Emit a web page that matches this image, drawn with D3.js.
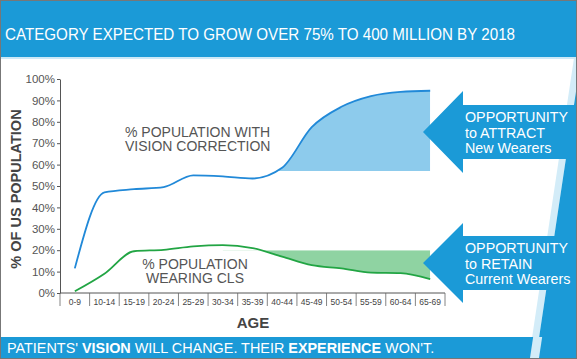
<html>
<head>
<script src="https://d3js.org/d3.v7.min.js"></script>
<style>
  body { margin: 0; background: #fff; }
  text { font-family: "Liberation Sans", Arial, sans-serif; }
</style>
</head>
<body>
<script>
// age groups on the x axis
const ages = ["0-9", "10-14", "15-19", "20-24", "25-29", "30-34", "35-39",
              "40-44", "45-49", "50-54", "55-59", "60-64", "65-69"];
// % population with vision correction
const visionCorrection = [11.5, 47, 48.5, 49.5, 55, 54.5, 53.5, 58.5, 77.5, 87, 92, 94, 94.5];
// % population wearing contact lenses
const wearingCLs = [0.8, 9, 19.5, 20.2, 21.8, 22.4, 21, 17, 13, 11.5, 9.5, 9.3, 6.5];
// opportunity thresholds (fill baselines)
const attractLevel = 57;
const retainLevel = 20;
const yTicks = [0, 10, 20, 30, 40, 50, 60, 70, 80, 90, 100];

const W = 577, H = 359;
const blue = "#1b9ad7";

let svg = d3.select("body").append("svg")
  .attr("width", W)
  .attr("height", H);

svg.append("rect").attr("width", W).attr("height", H).attr("fill", "#fff");

// decorative slanted band on the right
const edge = y => 581 - 0.15 * (y - 58);
svg.append("polygon")
  .attr("points", [[edge(58) - 7, 58], [edge(58), 58], [edge(359), 359], [edge(359) - 7, 359]].join(" "))
  .attr("fill", "#d3ecf8");
svg.append("polygon")
  .attr("points", [[edge(58), 58], [W, 58], [W, 359], [edge(359), 359]].join(" "))
  .attr("fill", blue);

// title bar
svg.append("rect").attr("x", 0).attr("y", 0).attr("width", W).attr("height", 57).attr("fill", blue);
svg.append("rect").attr("x", 0).attr("y", 57).attr("width", W).attr("height", 2).attr("fill", "#cde9f7");
svg.append("text")
  .attr("x", 5).attr("y", 40)
  .attr("font-size", "16px")
  .attr("fill", "#fff")
  .attr("textLength", 510)
  .attr("lengthAdjust", "spacingAndGlyphs")
  .text("CATEGORY EXPECTED TO GROW OVER 75% TO 400 MILLION BY 2018");

// scales
let x = d3.scaleBand().domain(ages).range([60, 445]).padding(0);
let y = d3.scaleLinear().domain([0, 100]).range([293, 79]);
const cx = d => x(d) + x.bandwidth() / 2;

// y axis
let yAxis = svg.append("g")
  .attr("transform", "translate(60,0)")
  .call(d3.axisLeft(y).tickValues(yTicks).tickFormat(d => d + "%").tickSize(3).tickSizeOuter(0).tickPadding(2));
yAxis.select(".domain").attr("stroke", "#555");
yAxis.selectAll(".tick line").attr("stroke", "#555");
yAxis.selectAll("text").attr("font-size", "11.5px").attr("fill", "#555")
  .attr("font-family", "Liberation Sans, Arial, sans-serif");

// x axis: baseline, category dividers, labels
svg.append("line")
  .attr("x1", 60).attr("x2", x.range()[1])
  .attr("y1", y(0)).attr("y2", y(0))
  .attr("stroke", "#555");
svg.selectAll(".div")
  .data(ages.map(a => x(a)).concat([x.range()[1]]))
  .enter().append("line")
  .attr("x1", d => d).attr("x2", d => d)
  .attr("y1", y(0)).attr("y2", y(0) + 13)
  .attr("stroke", "#666").attr("stroke-width", 0.8);
svg.selectAll(".xlab")
  .data(ages)
  .enter().append("text")
  .attr("x", d => cx(d))
  .attr("y", y(0) + 11.5)
  .attr("text-anchor", "middle")
  .attr("font-size", "8.5px")
  .attr("fill", "#444")
  .text(d => d);

// axis titles
svg.append("text")
  .attr("transform", "translate(21," + 189 + ") rotate(-90)")
  .attr("text-anchor", "middle")
  .attr("font-size", "14.5px")
  .attr("font-weight", "bold")
  .attr("fill", "#444")
  .text("% OF US POPULATION");
svg.append("text")
  .attr("x", 253).attr("y", 328)
  .attr("text-anchor", "middle")
  .attr("font-size", "15px")
  .attr("font-weight", "bold")
  .attr("fill", "#444")
  .text("AGE");

// filled opportunity areas
const defs = svg.append("defs");
defs.append("clipPath").attr("id", "clipBlue").append("rect")
  .attr("x", cx("35-39")).attr("y", 0)
  .attr("width", cx(ages[ages.length - 1]) - cx("35-39"))
  .attr("height", y(attractLevel));
defs.append("clipPath").attr("id", "clipGreen").append("rect")
  .attr("x", cx("30-34")).attr("y", y(retainLevel))
  .attr("width", cx(ages[ages.length - 1]) - cx("30-34"))
  .attr("height", y(0) - y(retainLevel));

let blueArea = d3.area().x((d, i) => cx(ages[i])).y0(y(attractLevel)).y1(d => y(d)).curve(d3.curveMonotoneX);
let greenArea = d3.area().x((d, i) => cx(ages[i])).y0(y(retainLevel)).y1(d => y(d)).curve(d3.curveMonotoneX);

svg.append("path").datum(visionCorrection)
  .attr("d", blueArea).attr("fill", "#8dcbec").attr("clip-path", "url(#clipBlue)");
svg.append("path").datum(wearingCLs)
  .attr("d", greenArea).attr("fill", "#8fd3a2").attr("clip-path", "url(#clipGreen)");

let line = d3.line().x((d, i) => cx(ages[i])).y(d => y(d)).curve(d3.curveMonotoneX);
svg.append("path").datum(visionCorrection)
  .attr("d", line).attr("fill", "none").attr("stroke", "#2189d8").attr("stroke-width", 1.8);
svg.append("path").datum(wearingCLs)
  .attr("d", line).attr("fill", "none").attr("stroke", "#22a544").attr("stroke-width", 1.8);

// series labels
const lbl = (lines, xx, yy, anchor) => {
  let t = svg.append("text").attr("font-size", "14px").attr("fill", "#555").attr("text-anchor", anchor);
  lines.forEach((s, i) => t.append("tspan").attr("x", xx).attr("y", yy + i * 14).text(s));
};
lbl(["% POPULATION WITH", "VISION CORRECTION"], 125, 137, "start");
lbl(["% POPULATION", "WEARING CLS"], 195, 269, "middle");

// arrows
const arrow = (cy, half, shaft, lines) => {
  svg.append("polygon")
    .attr("points", [[423, cy], [463, cy - half], [463, cy - shaft], [W, cy - shaft],
                     [W, cy + shaft], [463, cy + shaft], [463, cy + half]].join(" "))
    .attr("fill", blue);
  let t = svg.append("text").attr("font-size", "14.3px").attr("fill", "#fff");
  lines.forEach((s, i) => t.append("tspan").attr("x", 465).attr("y", cy - 10 + i * 15.5).text(s));
};
arrow(132, 41, 27, ["OPPORTUNITY", "to ATTRACT", "New Wearers"]);
arrow(263, 40, 27, ["OPPORTUNITY", "to RETAIN", "Current Wearers"]);

// bottom bar
svg.append("rect").attr("x", 0).attr("y", 337).attr("width", W).attr("height", 22).attr("fill", blue);
svg.append("polygon")
  .attr("points", [[edge(337) - 6, 337], [edge(337) + 3, 337], [edge(359) + 3, 359], [edge(359) - 6, 359]].join(" "))
  .attr("fill", "#d3ecf8");
let foot = svg.append("text").attr("x", 7).attr("y", 353).attr("font-size", "14.4px").attr("fill", "#fff");
foot.append("tspan").text("PATIENTS' ");
foot.append("tspan").attr("font-weight", "bold").text("VISION");
foot.append("tspan").text(" WILL CHANGE. THEIR ");
foot.append("tspan").attr("font-weight", "bold").text("EXPERIENCE");
foot.append("tspan").text(" WON'T.");

svg.append("rect").attr("x", 0.5).attr("y", 0.5).attr("width", W - 1).attr("height", H - 1)
  .attr("fill", "none").attr("stroke", "#777");
</script>
</body>
</html>
